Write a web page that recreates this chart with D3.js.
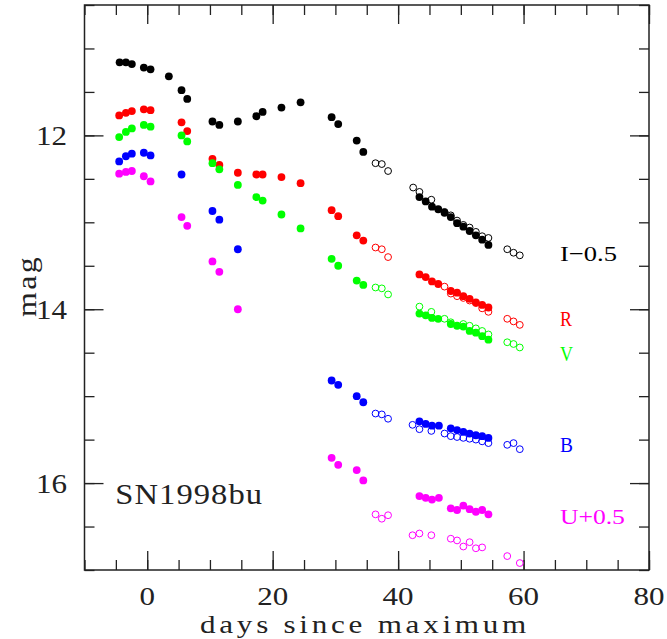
<!DOCTYPE html>
<html>
<head>
<meta charset="utf-8">
<script src="https://cdn.jsdelivr.net/npm/d3@7"></script>
<style>
  body { margin: 0; background: #fff; }
  text { font-family: "Liberation Serif", "DejaVu Serif", serif; fill: #222; }
</style>
</head>
<body>
<div id="chart"></div>
<script>
// light curve of SN1998bu, [days since max, mag] as plotted (I shifted -0.5, U +0.5)
var iFilled = [[-4.4,11.16],[-3.4,11.16],[-2.45,11.18],[-0.54,11.22],[0.53,11.24],[3.45,11.32],[5.47,11.48],[6.38,11.58],
  [10.4,11.84],[11.5,11.88],[14.45,11.84],[17.4,11.78],[18.4,11.73],[21.4,11.68],[24.45,11.62],[29.4,11.79],[30.45,11.87],
  [33.4,12.06],[34.45,12.19],[43.4,12.71],[44.4,12.76],[45.4,12.82],[46.4,12.85],[47.4,12.89],[48.4,12.94],[49.4,13.01],
  [50.4,13.05],[51.4,13.10],[52.4,13.15],[53.4,13.20],[54.4,13.26]];
var iOpen = [[36.4,12.32],[37.4,12.33],[38.4,12.41],[42.4,12.60],[43.4,12.65],[45.3,12.74],[47.4,12.88],[48.4,12.92],
  [49.4,12.98],[50.4,13.03],[51.4,13.06],[52.4,13.11],[53.4,13.16],[54.4,13.18],[57.4,13.31],[58.4,13.35],[59.4,13.38]];

var rFilled = [[-4.47,11.77],[-3.4,11.74],[-2.45,11.72],[-0.54,11.70],[0.53,11.71],[5.47,11.85],[6.38,11.95],[10.4,12.27],
  [11.5,12.34],[14.45,12.43],[17.4,12.45],[18.4,12.45],[21.4,12.48],[24.45,12.55],[29.4,12.86],[30.45,12.93],[33.4,13.15],
  [34.45,13.21],[43.4,13.60],[44.4,13.63],[45.4,13.68],[46.4,13.71],[48.4,13.79],[49.4,13.81],[50.4,13.85],[51.4,13.88],
  [52.4,13.92],[53.4,13.95],[54.4,13.98]];
var rOpen = [[36.4,13.29],[37.4,13.31],[38.4,13.40],[47.4,13.74],[48.4,13.82],[49.4,13.85],[50.4,13.87],[51.4,13.90],
  [52.4,13.93],[53.4,13.99],[54.4,14.03],[57.4,14.11],[58.4,14.14],[59.4,14.18]];

var vFilled = [[-4.47,12.02],[-3.4,11.96],[-2.45,11.92],[-0.54,11.88],[0.53,11.90],[5.47,12.00],[6.38,12.07],[10.4,12.32],
  [11.5,12.39],[14.45,12.57],[17.4,12.71],[18.4,12.75],[21.4,12.91],[24.45,13.07],[29.4,13.42],[30.45,13.50],[33.4,13.67],
  [34.45,13.72],[43.4,14.05],[44.4,14.07],[45.4,14.10],[46.4,14.11],[48.4,14.17],[49.4,14.19],[50.4,14.20],[51.4,14.25],
  [52.4,14.27],[53.4,14.31],[54.4,14.35]];
var vOpen = [[36.4,13.75],[37.4,13.76],[38.4,13.83],[43.4,13.97],[45.3,14.03],[47.4,14.11],[48.4,14.15],[50.4,14.17],
  [51.4,14.19],[52.4,14.22],[53.4,14.25],[54.4,14.29],[57.4,14.38],[58.4,14.40],[59.4,14.44]];

var bFilled = [[-4.47,12.30],[-3.4,12.24],[-2.45,12.21],[-0.54,12.20],[0.53,12.23],[5.47,12.45],[10.4,12.87],[11.5,12.97],
  [14.45,13.31],[29.4,14.82],[30.45,14.87],[33.4,15.00],[34.45,15.07],[43.4,15.29],[44.4,15.32],[45.4,15.34],[46.5,15.34],
  [48.4,15.37],[49.4,15.39],[50.4,15.41],[51.4,15.43],[52.4,15.45],[53.4,15.46],[54.4,15.48]];
var bOpen = [[36.4,15.20],[37.4,15.21],[38.4,15.26],[42.3,15.33],[43.4,15.38],[45.3,15.40],[47.4,15.43],[48.4,15.46],
  [49.4,15.47],[50.4,15.48],[51.4,15.49],[52.4,15.50],[53.4,15.52],[54.4,15.54],[57.4,15.56],[58.4,15.54],[59.4,15.61]];

var uFilled = [[-4.47,12.44],[-3.4,12.42],[-2.45,12.41],[-0.54,12.47],[0.53,12.53],[5.47,12.94],[6.38,13.04],[10.4,13.45],
  [11.5,13.57],[14.45,14.00],[29.4,15.71],[30.45,15.79],[33.4,15.85],[34.45,15.97],[43.4,16.15],[44.4,16.17],[45.4,16.19],
  [46.5,16.17],[48.4,16.29],[49.4,16.31],[50.4,16.26],[51.4,16.30],[52.4,16.33],[53.4,16.31],[54.4,16.36]];
var uOpen = [[36.4,16.36],[37.4,16.41],[38.4,16.37],[42.3,16.60],[43.4,16.58],[45.3,16.60],[48.4,16.64],[49.4,16.66],
  [50.4,16.73],[51.4,16.68],[52.4,16.75],[53.4,16.74],[57.4,16.84],[59.4,16.92]];

var bandNames = ["I\u22120.5", "R", "V", "B", "U+0.5"];
var bandColors = ["#000000", "#ff0000", "#00ff00", "#0000ff", "#ff00ff"];
var xTickLabels = [0, 20, 40, 60, 80];
var yTickLabels = [12, 14, 16];

var svgWidth = 667;
var svgHeight = 639;
var margin = { top: 5, right: 18, bottom: 69, left: 84.5 };
var width = svgWidth - margin.left - margin.right;
var height = svgHeight - margin.top - margin.bottom;

var svg = d3.select("#chart")
  .append("svg")
  .attr("width", svgWidth)
  .attr("height", svgHeight);

var chartGroup = svg.append("g")
  .attr("transform", `translate(${margin.left}, ${margin.top})`);

var xScale = d3.scaleLinear().domain([-10, 80]).range([0, width]);
var yScale = d3.scaleLinear().domain([10.5, 17]).range([0, height]);

var majorLen = 19, minorLen = 10;
var xMinor = d3.range(-10, 80.1, 5);
var yMinor = d3.range(10.5, 17.01, 0.5);

// minor ticks, all four sides
chartGroup.append("g").attr("class", "tk").attr("transform", `translate(0, ${height})`)
  .call(d3.axisBottom(xScale).tickValues(xMinor).tickSize(-minorLen).tickSizeOuter(0).tickFormat(""));
chartGroup.append("g").attr("class", "tk")
  .call(d3.axisTop(xScale).tickValues(xMinor).tickSize(-minorLen).tickSizeOuter(0).tickFormat(""));
chartGroup.append("g").attr("class", "tk")
  .call(d3.axisLeft(yScale).tickValues(yMinor).tickSize(-minorLen).tickSizeOuter(0).tickFormat(""));
chartGroup.append("g").attr("class", "tk").attr("transform", `translate(${width}, 0)`)
  .call(d3.axisRight(yScale).tickValues(yMinor).tickSize(-minorLen).tickSizeOuter(0).tickFormat(""));

// major ticks
chartGroup.append("g").attr("class", "tk").attr("transform", `translate(0, ${height})`)
  .call(d3.axisBottom(xScale).tickValues(xTickLabels).tickSize(-majorLen).tickSizeOuter(0).tickFormat(""));
chartGroup.append("g").attr("class", "tk")
  .call(d3.axisTop(xScale).tickValues(xTickLabels).tickSize(-majorLen).tickSizeOuter(0).tickFormat(""));
chartGroup.append("g").attr("class", "tk")
  .call(d3.axisLeft(yScale).tickValues(yTickLabels).tickSize(-majorLen).tickSizeOuter(0).tickFormat(""));
chartGroup.append("g").attr("class", "tk").attr("transform", `translate(${width}, 0)`)
  .call(d3.axisRight(yScale).tickValues(yTickLabels).tickSize(-majorLen).tickSizeOuter(0).tickFormat(""));

chartGroup.selectAll(".tk .domain").remove();
chartGroup.selectAll(".tk text").remove();
chartGroup.selectAll(".tk line").attr("stroke", "#222").attr("stroke-width", 1.3);

// tick labels (wide glyphs like the original plotting font)
var digitW = 15.5;
chartGroup.append("g").selectAll("text")
  .data(xTickLabels)
  .enter()
  .append("text")
  .attr("x", d => xScale(d) - String(d).length * digitW / 2)
  .attr("y", height + 35)
  .attr("textLength", d => String(d).length * digitW)
  .attr("lengthAdjust", "spacingAndGlyphs")
  .style("font-size", "26px")
  .text(d => d);

chartGroup.append("g").selectAll("text")
  .data(yTickLabels)
  .enter()
  .append("text")
  .attr("x", d => -17.5 - String(d).length * digitW)
  .attr("y", d => yScale(d) + 10)
  .attr("textLength", d => String(d).length * digitW)
  .attr("lengthAdjust", "spacingAndGlyphs")
  .style("font-size", "27px")
  .text(d => d);

// frame
chartGroup.append("rect")
  .attr("width", width)
  .attr("height", height)
  .attr("fill", "none")
  .attr("stroke", "#222")
  .attr("stroke-width", 1.5);

// data points
var filledSets = [iFilled, rFilled, vFilled, bFilled, uFilled];
var openSets = [iOpen, rOpen, vOpen, bOpen, uOpen];

filledSets.forEach(function(set, i) {
  chartGroup.append("g").selectAll("circle")
    .data(set)
    .enter()
    .append("circle")
    .attr("cx", d => xScale(d[0]))
    .attr("cy", d => yScale(d[1]))
    .attr("r", 3.9)
    .attr("fill", bandColors[i]);
});

openSets.forEach(function(set, i) {
  chartGroup.append("g").selectAll("circle")
    .data(set)
    .enter()
    .append("circle")
    .attr("cx", d => xScale(d[0]))
    .attr("cy", d => yScale(d[1]))
    .attr("r", 3.4)
    .attr("fill", "none")
    .attr("stroke", bandColors[i])
    .attr("stroke-width", 1);
});

// band labels (y given in mag units so they sit by their curves)
var labelMag = [13.45, 14.19, 14.59, 15.64, 16.47];
var labelLen = [57, 12, 13, 13, 65];
bandNames.forEach(function(name, i) {
  chartGroup.append("text")
    .attr("x", xScale(65.8))
    .attr("y", yScale(labelMag[i]))
    .attr("textLength", labelLen[i])
    .attr("lengthAdjust", "spacingAndGlyphs")
    .style("font-size", "22px")
    .style("fill", bandColors[i])
    .text(name);
});

// object name
chartGroup.append("text")
  .attr("x", xScale(-5.1))
  .attr("y", yScale(16.24))
  .style("font-size", "30px")
  .style("letter-spacing", "1px")
  .attr("textLength", 148)
  .attr("lengthAdjust", "spacingAndGlyphs")
  .text("SN1998bu");

// axis titles
svg.append("text")
  .attr("x", 200)
  .attr("y", 633)
  .style("font-size", "25px")
  .style("letter-spacing", "3px")
  .attr("textLength", 330)
  .attr("lengthAdjust", "spacingAndGlyphs")
  .text("days since maximum");

svg.append("text")
  .attr("transform", "rotate(-90)")
  .attr("x", -317)
  .attr("y", 36)
  .style("font-size", "27px")
  .style("letter-spacing", "2px")
  .attr("textLength", 62)
  .attr("lengthAdjust", "spacingAndGlyphs")
  .text("mag");
</script>
</body>
</html>
